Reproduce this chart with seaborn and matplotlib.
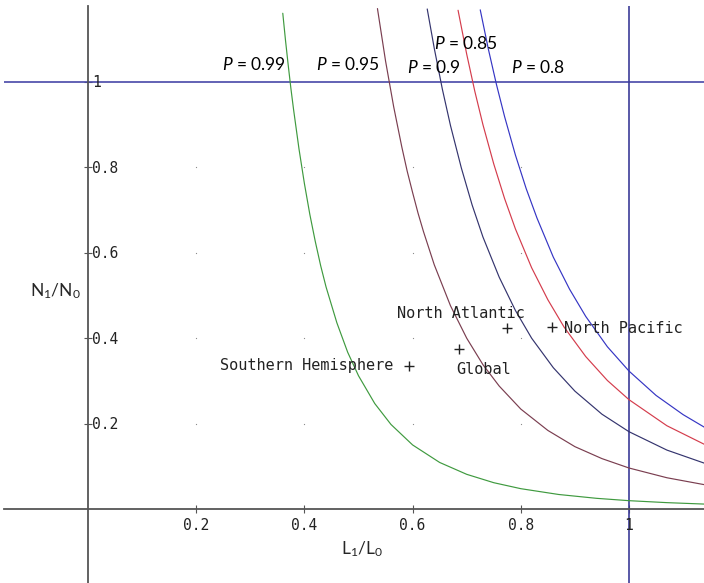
import matplotlib
matplotlib.use("Agg")
import matplotlib.pyplot as plt
import pandas as pd
import seaborn as sns

# curves N1/N0 against L1/L0, one per P value
p99_L = [0.36, 0.365, 0.37, 0.375, 0.38, 0.39, 0.40, 0.41, 0.42, 0.43, 0.44, 0.46, 0.48, 0.50,
         0.53, 0.56, 0.60, 0.65, 0.70, 0.75, 0.80, 0.87, 0.94, 1.00, 1.07, 1.14]
p99_N = [1.161, 1.098, 1.040, 0.985, 0.935, 0.843, 0.762, 0.690, 0.627, 0.570, 0.520, 0.436,
         0.367, 0.312, 0.247, 0.198, 0.150, 0.109, 0.0812, 0.0616, 0.0476, 0.0340, 0.0250,
         0.0195, 0.0149, 0.0115]

p95_L = [0.535, 0.55, 0.565, 0.58, 0.59, 0.60, 0.61, 0.62, 0.64, 0.67, 0.70, 0.73, 0.76, 0.80,
         0.85, 0.90, 0.95, 1.00, 1.07, 1.14]
p95_N = [1.172, 1.049, 0.942, 0.848, 0.791, 0.741, 0.693, 0.650, 0.572, 0.476, 0.400, 0.338,
         0.288, 0.234, 0.184, 0.146, 0.118, 0.096, 0.0732, 0.0568]

p90_L = [0.627, 0.64, 0.655, 0.67, 0.69, 0.71, 0.73, 0.76, 0.79, 0.82, 0.86, 0.90,
         0.95, 1.00, 1.07, 1.14]
p90_N = [1.171, 1.079, 0.983, 0.898, 0.799, 0.712, 0.637, 0.543, 0.465, 0.400, 0.331, 0.276,
         0.222, 0.181, 0.138, 0.107]

p85_L = [0.684, 0.70, 0.715, 0.73, 0.75, 0.77, 0.79, 0.82, 0.85, 0.88, 0.92, 0.96,
         1.00, 1.07, 1.14]
p85_N = [1.168, 1.065, 0.978, 0.900, 0.808, 0.727, 0.656, 0.565, 0.490, 0.426, 0.357, 0.301,
         0.256, 0.195, 0.151]

p80_L = [0.725, 0.74, 0.755, 0.77, 0.79, 0.81, 0.83, 0.86, 0.89, 0.92, 0.96, 1.00,
         1.05, 1.10, 1.14]
p80_N = [1.169, 1.077, 0.994, 0.919, 0.829, 0.750, 0.681, 0.590, 0.515, 0.451, 0.380, 0.323,
         0.266, 0.221, 0.191]

curve_labels = ["$P$ = 0.99", "$P$ = 0.95", "$P$ = 0.9", "$P$ = 0.85", "$P$ = 0.8"]

# observed regions
regions = ["Southern Hemisphere", "Global", "North Atlantic", "North Pacific"]
region_L = [0.594, 0.686, 0.775, 0.858]
region_N = [0.335, 0.374, 0.425, 0.427]

ticks = [0.2, 0.4, 0.6, 0.8, 1.0]
tick_text = ["0.2", "0.4", "0.6", "0.8", "1"]

sns.set_theme(style="white")
plt.rcParams["font.family"] = ["Lato", "DejaVu Sans"]
plt.rcParams["mathtext.fontset"] = "custom"
plt.rcParams["mathtext.rm"] = "Lato"
plt.rcParams["mathtext.it"] = "Lato:italic"

fig = plt.figure(figsize=(7.04, 5.83), dpi=100)
ax = fig.add_axes([4 / 704, 0, 700 / 704, 577 / 583])
ax.set_xlim(-0.1553, 1.1386)
ax.set_ylim(-0.1733, 1.178)

axis_col = "#555555"
for side in ["top", "right"]:
    ax.spines[side].set_visible(False)
ax.spines["left"].set_position(("data", 0))
ax.spines["bottom"].set_position(("data", 0))
for side in ["left", "bottom"]:
    ax.spines[side].set_color(axis_col)
    ax.spines[side].set_linewidth(1.3)

ax.set_xticks(ticks)
ax.set_yticks(ticks)
ax.set_xticklabels([])
ax.set_yticklabels([])
ax.tick_params(direction="inout", length=6, width=0.8, color=axis_col,
               bottom=True, left=True)

# reference lines at 1
ax.axhline(1, color="#4848a8", lw=1.2, zorder=1)
ax.axvline(1, color="#3c3c98", lw=1.2, zorder=1)

# faint grid dots
gx = [x for x in ticks[:-1] for _ in ticks[:-1]]
gy = [y for _ in ticks[:-1] for y in ticks[:-1]]
ax.scatter(gx, gy, s=0.8, color="#888888", linewidths=0, zorder=1)

curves = [(p99_L, p99_N, "#3f9a3f"), (p95_L, p95_N, "#7a3e50"),
          (p90_L, p90_N, "#34346e"), (p85_L, p85_N, "#d43c4c"),
          (p80_L, p80_N, "#3535c4")]
for L, N, col in curves:
    df = pd.DataFrame({"L": L, "N": N})
    sns.lineplot(data=df, x="L", y="N", sort=False, color=col, lw=0.85, ax=ax, zorder=2)

ax.set_xlabel("")
ax.set_ylabel("")

# P labels
label_pos = [(0.307, 1.040), (0.480, 1.040), (0.639, 1.035), (0.698, 1.091), (0.831, 1.033)]
for txt, (x, y) in zip(curve_labels, label_pos):
    ax.text(x, y, txt, ha="center", va="center", fontsize=12.5, color="black")

# region markers
sns.scatterplot(x=region_L, y=region_N, marker="+", s=45, color="#222222",
                linewidth=1.0, ax=ax, zorder=3)
region_text_pos = [(0.244, 0.337), (0.680, 0.326), (0.571, 0.459), (0.880, 0.422)]
for name, (x, y) in zip(regions, region_text_pos):
    ax.text(x, y, name, ha="left", va="center", fontsize=11,
            family="DejaVu Sans Mono", color="#222222")

# tick labels in monospace beside the axes
for t, s in zip(ticks, tick_text):
    ax.text(t, -0.038, s, ha="center", va="center", fontsize=10.5,
            family="DejaVu Sans Mono", color="#222222")
    ax.text(0.008, t - 0.002, s, ha="left", va="center", fontsize=10.5,
            family="DejaVu Sans Mono", color="#222222")

ax.text(-0.061, 0.511, r"$\mathregular{N_1/N_0}$", ha="center", va="center", fontsize=12.5)
ax.text(0.506, -0.094, r"$\mathregular{L_1/L_0}$", ha="center", va="center", fontsize=12.5)

fig.savefig("out.png", dpi=100)
plt.close(fig)
